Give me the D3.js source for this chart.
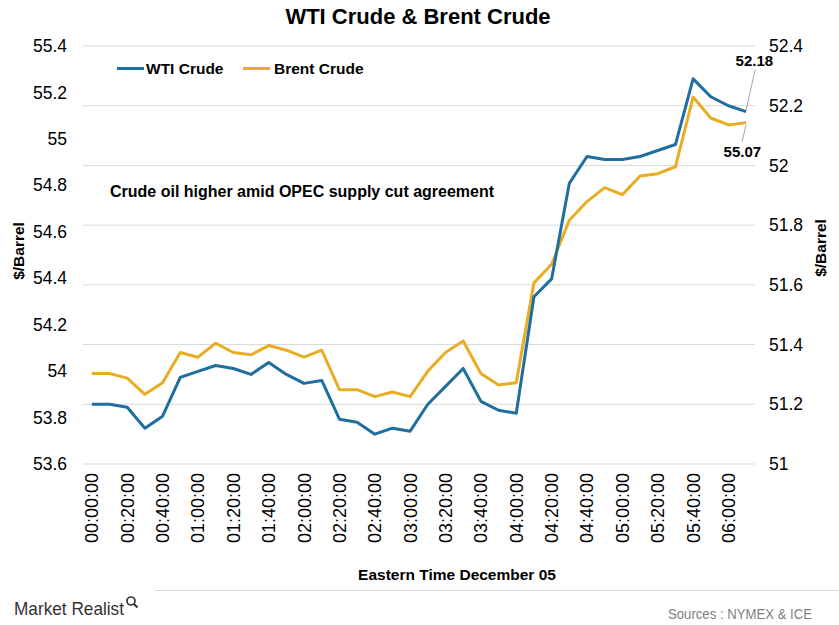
<!DOCTYPE html>
<html><head><meta charset="utf-8">
<script src="https://cdn.jsdelivr.net/npm/d3@7"></script>
<style>
body{margin:0;background:#fff;}
svg{display:block;font-family:"Liberation Sans",Arial,sans-serif;}
</style></head>
<body><svg id="c" width="839" height="625"></svg>
<script>
const times = ["00:00:00","00:10:00","00:20:00","00:30:00","00:40:00","00:50:00","01:00:00","01:10:00","01:20:00","01:30:00","01:40:00","01:50:00","02:00:00","02:10:00","02:20:00","02:30:00","02:40:00","02:50:00","03:00:00","03:10:00","03:20:00","03:30:00","03:40:00","03:50:00","04:00:00","04:10:00","04:20:00","04:30:00","04:40:00","04:50:00","05:00:00","05:10:00","05:20:00","05:30:00","05:40:00","05:50:00","06:00:00","06:10:00"];
const tickLabels = ["00:00:00","00:20:00","00:40:00","01:00:00","01:20:00","01:40:00","02:00:00","02:20:00","02:40:00","03:00:00","03:20:00","03:40:00","04:00:00","04:20:00","04:40:00","05:00:00","05:20:00","05:40:00","06:00:00"];
const wti = [51.20,51.20,51.19,51.12,51.16,51.29,51.31,51.33,51.32,51.30,51.34,51.30,51.27,51.28,51.15,51.14,51.10,51.12,51.11,51.20,51.26,51.32,51.21,51.18,51.17,51.56,51.62,51.94,52.03,52.02,52.02,52.03,52.05,52.07,52.29,52.23,52.20,52.18];
const brent = [53.99,53.99,53.97,53.90,53.95,54.08,54.06,54.12,54.08,54.07,54.11,54.09,54.06,54.09,53.92,53.92,53.89,53.91,53.89,54.00,54.08,54.13,53.99,53.94,53.95,54.38,54.46,54.65,54.73,54.79,54.76,54.84,54.85,54.88,55.18,55.09,55.06,55.07];
const leftTicks = [53.6,53.8,54,54.2,54.4,54.6,54.8,55,55.2,55.4];
const rightTicks = [51,51.2,51.4,51.6,51.8,52,52.2,52.4];
const seriesNames = ["WTI Crude","Brent Crude"];
const colors = ["#1f6ea0","#e8ad24"];

const svg = d3.select("#c");
const L=83, R=755, T=46, B=464;
const x = d3.scaleBand().domain(times).range([L,R]).padding(0);
const cx = d => x(d)+x.bandwidth()/2;
const yL = d3.scaleLinear().domain([53.6,55.4]).range([B,T]);
const yR = d3.scaleLinear().domain([51,52.4]).range([B,T]);

// gridlines (right axis)
svg.append("g").selectAll("line").data(rightTicks).join("line")
  .attr("x1",L).attr("x2",R).attr("y1",d=>yR(d)).attr("y2",d=>yR(d))
  .attr("stroke","#d9d9d9").attr("stroke-width",1);

// left axis
const gl = svg.append("g").attr("transform",`translate(${L},0)`)
  .call(d3.axisLeft(yL).tickValues(leftTicks).tickSize(0).tickPadding(16).tickFormat(d=>+d.toFixed(1)));
gl.select(".domain").remove();
gl.selectAll("text").attr("font-size",17.5).attr("fill","#000").attr("font-family","Liberation Sans, Arial");

// right axis
const gr = svg.append("g").attr("transform",`translate(${R},0)`)
  .call(d3.axisRight(yR).tickValues(rightTicks).tickSize(0).tickPadding(14).tickFormat(d=>+d.toFixed(1)));
gr.select(".domain").remove();
gr.selectAll("text").attr("font-size",17.5).attr("fill","#000").attr("font-family","Liberation Sans, Arial");

// x axis
const gx = svg.append("g").attr("transform",`translate(0,${B})`)
  .call(d3.axisBottom(x).tickValues(tickLabels).tickSize(0).tickPadding(0));
gx.select(".domain").remove();
gx.selectAll("text").attr("font-size",18).attr("fill","#000").attr("font-family","Liberation Sans, Arial")
  .attr("transform","rotate(-90)").attr("text-anchor","end").attr("x",-9).attr("y",0).attr("dy","0.36em");

// lines
const line = (ys,vals)=>d3.line().x((d,i)=>cx(times[i])).y((d)=>ys(d))(vals);
svg.append("path").attr("d",line(yL,brent)).attr("fill","none").attr("stroke",colors[1]).attr("stroke-width",3).attr("stroke-linejoin","round");
svg.append("path").attr("d",line(yR,wti)).attr("fill","none").attr("stroke",colors[0]).attr("stroke-width",3).attr("stroke-linejoin","round");

// title
svg.append("text").attr("x",418).attr("y",24).attr("text-anchor","middle")
  .attr("font-size",22).attr("font-weight","bold").text("WTI Crude & Brent Crude");

// legend
const lg = [{x:117,tx:146},{x:243,tx:274}];
lg.forEach((p,i)=>{
  svg.append("line").attr("x1",p.x).attr("x2",p.x+27).attr("y1",68.5).attr("y2",68.5).attr("stroke",colors[i]).attr("stroke-width",3);
  svg.append("text").attr("x",p.tx).attr("y",74).attr("font-size",15.5).attr("font-weight","bold").text(seriesNames[i]);
});

// annotation
svg.append("text").attr("x",110).attr("y",197).attr("font-size",16).attr("font-weight","bold")
  .text("Crude oil higher amid OPEC supply cut agreement");

// axis titles
svg.append("text").attr("transform","translate(24,251) rotate(-90)").attr("text-anchor","middle")
  .attr("font-size",15.5).attr("font-weight","bold").text("$/Barrel");
svg.append("text").attr("transform","translate(826,248) rotate(-90)").attr("text-anchor","middle")
  .attr("font-size",15.5).attr("font-weight","bold").text("$/Barrel");

// end labels with leaders
const last = times.length-1;
const wx = cx(times[last]), wy = yR(wti[last]), bx = cx(times[last]), by = yL(brent[last]);
svg.append("line").attr("x1",wx).attr("y1",wy-2).attr("x2",wx+9).attr("y2",wy-42).attr("stroke","#a6a6a6").attr("stroke-width",1);
svg.append("text").attr("x",wx+27).attr("y",wy-46).attr("text-anchor","end").attr("font-size",15).attr("font-weight","bold").text(d3.format(".2f")(wti[last]));
svg.append("line").attr("x1",bx).attr("y1",by+2).attr("x2",bx-4).attr("y2",by+19).attr("stroke","#a6a6a6").attr("stroke-width",1);
svg.append("text").attr("x",bx+15).attr("y",by+34).attr("text-anchor","end").attr("font-size",15).attr("font-weight","bold").text(d3.format(".2f")(brent[last]));

// x-axis title
svg.append("text").attr("x",457).attr("y",580).attr("text-anchor","middle").attr("font-size",15.5).attr("font-weight","bold").text("Eastern Time December 05");

// footer
svg.append("line").attr("x1",155).attr("x2",839).attr("y1",590.5).attr("y2",590.5).attr("stroke","#d9d9d9").attr("stroke-width",1);
svg.append("text").attr("x",14).attr("y",615).attr("font-size",19).attr("fill","#333")
  .attr("textLength",110).attr("lengthAdjust","spacingAndGlyphs").text("Market Realist");
svg.append("circle").attr("cx",131).attr("cy",601).attr("r",4).attr("fill","none").attr("stroke","#333").attr("stroke-width",1.7);
svg.append("line").attr("x1",134).attr("y1",604).attr("x2",137.5).attr("y2",607.5).attr("stroke","#333").attr("stroke-width",2);
svg.append("text").attr("x",812).attr("y",619).attr("text-anchor","end").attr("font-size",14).attr("fill","#7f7f7f")
  .attr("textLength",144).attr("lengthAdjust","spacingAndGlyphs").text("Sources : NYMEX & ICE");
</script></body></html>
